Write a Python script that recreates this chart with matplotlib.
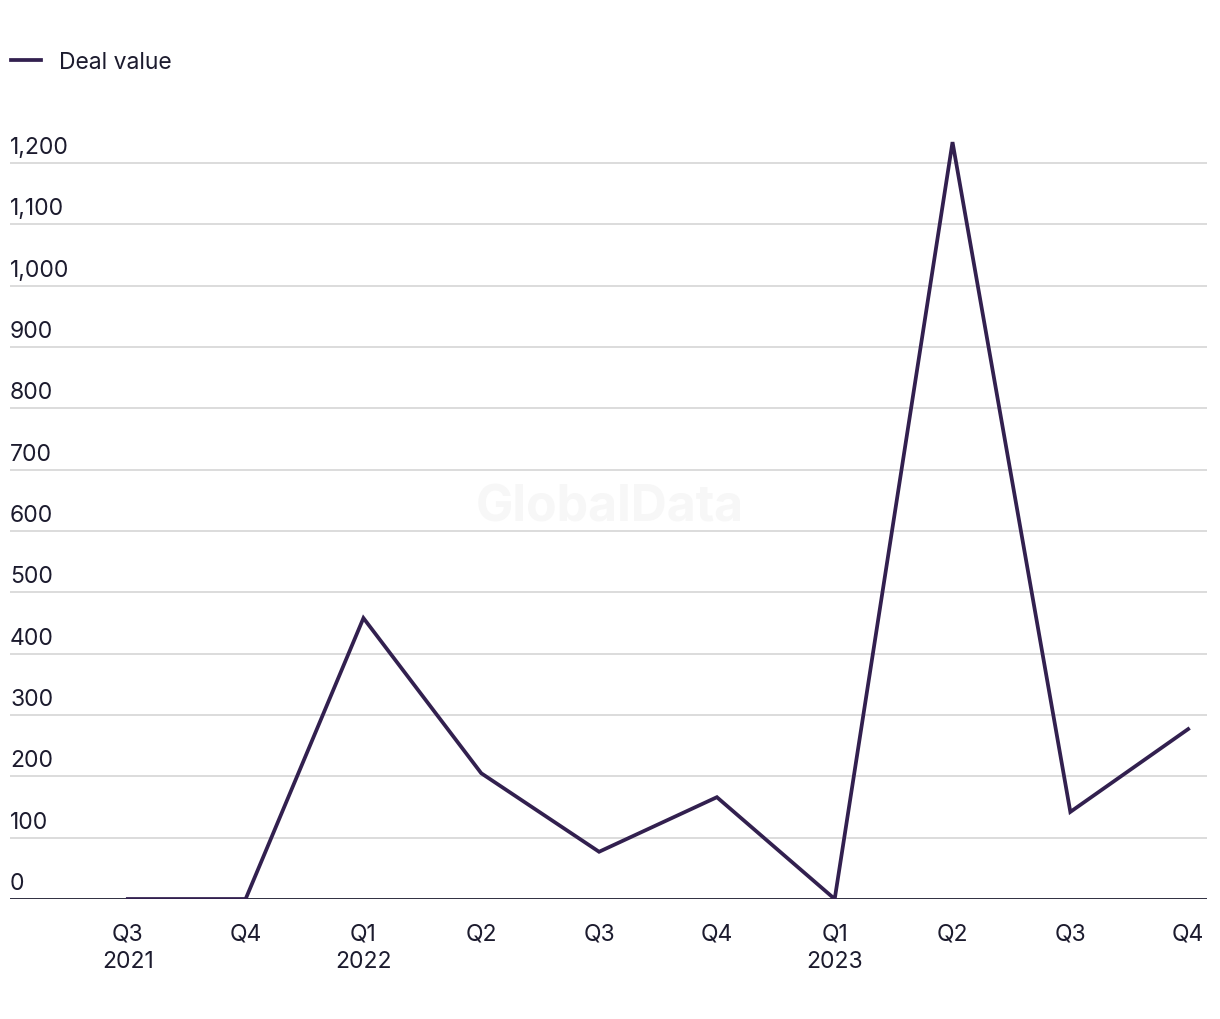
import matplotlib.pyplot as plt
import matplotlib.transforms as mtransforms

# quarterly deal value
quarters = ["Q3\n2021", "Q4", "Q1\n2022", "Q2", "Q3", "Q4", "Q1\n2023", "Q2", "Q3", "Q4"]
deal_value = [0, 0, 458, 205, 77, 166, 0, 1234, 142, 277]
y_ticks = [0, 100, 200, 300, 400, 500, 600, 700, 800, 900, 1000, 1100, 1200]

line_col = "#32204f"
text_col = "#1c1b2e"
grid_col = "#d9d9d9"
fs = 16.5

plt.rcParams['font.family'] = ['Inter', 'DejaVu Sans']

fig = plt.figure(figsize=(12.2, 10.2), dpi=100)
ax = fig.add_axes([10 / 1220, 120 / 1020, 1197 / 1220, (900 - 133.3) / 1020])

x = list(range(len(quarters)))
ax.plot(x, deal_value, color=line_col, lw=2.7, label="Deal value",
        solid_joinstyle="miter", zorder=3)

ax.set_xlim(-1.0, 9.16)
ax.set_ylim(0, 1250)

# gridlines + labels sitting on top of them
trans = mtransforms.blended_transform_factory(ax.transAxes, ax.transData)
for v in y_ticks:
    if v > 0:
        ax.axhline(v, color=grid_col, lw=1.3, zorder=1)
    ax.text(0.0, v + 8, f"{v:,}", transform=trans, ha="left", va="bottom",
            fontsize=fs, color=text_col)
ax.axhline(0, color=text_col, lw=2.0, zorder=2)

ax.set_yticks([])
ax.set_xticks(x)
ax.set_xticklabels(quarters, fontsize=fs, color=text_col, linespacing=1.3)
ax.tick_params(axis="x", length=0, pad=17)
for s in ax.spines.values():
    s.set_visible(False)

# watermark
ax.text(0.5, 512 / 1020, "GlobalData", transform=fig.transFigure, ha="center",
        va="center", fontsize=36, fontweight="bold", color="#f7f7f7", zorder=0)

fig.legend(loc="center left", bbox_to_anchor=(11 / 1220, 1 - 63 / 1020), frameon=False,
           fontsize=fs, handlelength=1.3, handletextpad=0.8, labelcolor=text_col,
           borderpad=0, borderaxespad=0)

fig.savefig("out.png", dpi=100)
